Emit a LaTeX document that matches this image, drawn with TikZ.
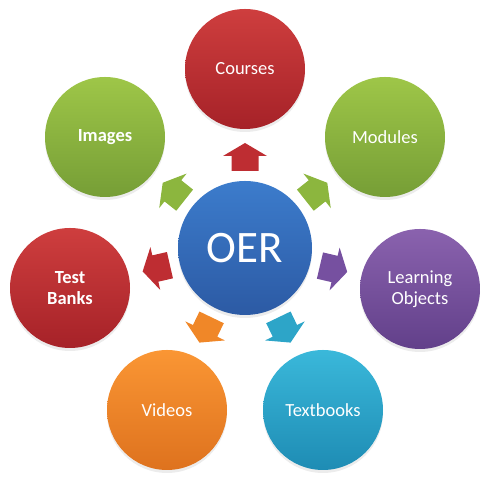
\documentclass[tikz,border=0pt]{standalone}
\usepackage{fontspec}
\setmainfont{Carlito}
\usetikzlibrary{shadows}
\definecolor{redT}{RGB}{206,62,62}
\definecolor{redB}{RGB}{166,34,40}
\definecolor{redA}{RGB}{190,45,50}
\definecolor{grnT}{RGB}{158,198,72}
\definecolor{grnB}{RGB}{118,158,54}
\definecolor{grnA}{RGB}{140,182,62}
\definecolor{bluT}{RGB}{60,124,204}
\definecolor{bluB}{RGB}{44,90,164}
\definecolor{purT}{RGB}{138,98,174}
\definecolor{purB}{RGB}{98,64,138}
\definecolor{purA}{RGB}{118,80,160}
\definecolor{orgT}{RGB}{250,150,52}
\definecolor{orgB}{RGB}{222,114,30}
\definecolor{orgA}{RGB}{240,135,40}
\definecolor{tlT}{RGB}{58,184,218}
\definecolor{tlB}{RGB}{30,140,180}
\definecolor{tlA}{RGB}{45,165,200}
\tikzset{
  bubble/.style={circle, minimum size=120pt, inner sep=0pt, text=white,
    font=\fontsize{18.5}{21.5}\selectfont, align=center,
    drop shadow={opacity=0.15, shadow xshift=0pt, shadow yshift=-3pt}},
  hub/.style={bubble, minimum size=134pt, font=\fontsize{45}{50}\selectfont},
  shred/.style={top color=redT, bottom color=redB},
  shgrn/.style={top color=grnT, bottom color=grnB},
  shblu/.style={top color=bluT, bottom color=bluB},
  shpur/.style={top color=purT, bottom color=purB},
  shorg/.style={top color=orgT, bottom color=orgB},
  shtl/.style={top color=tlT, bottom color=tlB},
  pics/blockarrow/.style={code={
    \fill[#1] (77,-13.5) -- (92,-13.5) -- (92,-22) -- (105,0) -- (92,22)
      -- (92,13.5) -- (77,13.5) -- cycle;}}
}
\begin{document}
\begin{tikzpicture}[x=1pt,y=1pt]
\useasboundingbox (0,0) rectangle (491,486);
\node[hub, shblu] (oer) at (245,238) {OER};
\node[bubble, shred] (courses) at (245,417) {Courses};
\node[bubble, shgrn] (images) at (105,349) {\bfseries Images};
\node[bubble, shgrn] (modules) at (385,349) {Modules};
\node[bubble, shred] (tests) at (70,198) {\bfseries Test\\\bfseries Banks};
\node[bubble, shpur] (lo) at (420,197) {Learning\\Objects};
\node[bubble, shorg] (videos) at (167,76) {Videos};
\node[bubble, shtl] (books) at (323,76) {Textbooks};
\path (oer.center) pic[rotate=90] {blockarrow=redA};
\path (oer.center) pic[rotate=141.6] {blockarrow=grnA};
\path (oer.center) pic[rotate=38.4] {blockarrow=grnA};
\path (oer.center) pic[rotate=192.9] {blockarrow=redA};
\path (oer.center) pic[rotate=-13.2] {blockarrow=purA};
\path (oer.center) pic[rotate=244.3] {blockarrow=orgA};
\path (oer.center) pic[rotate=295.7] {blockarrow=tlA};
\end{tikzpicture}
\end{document}
